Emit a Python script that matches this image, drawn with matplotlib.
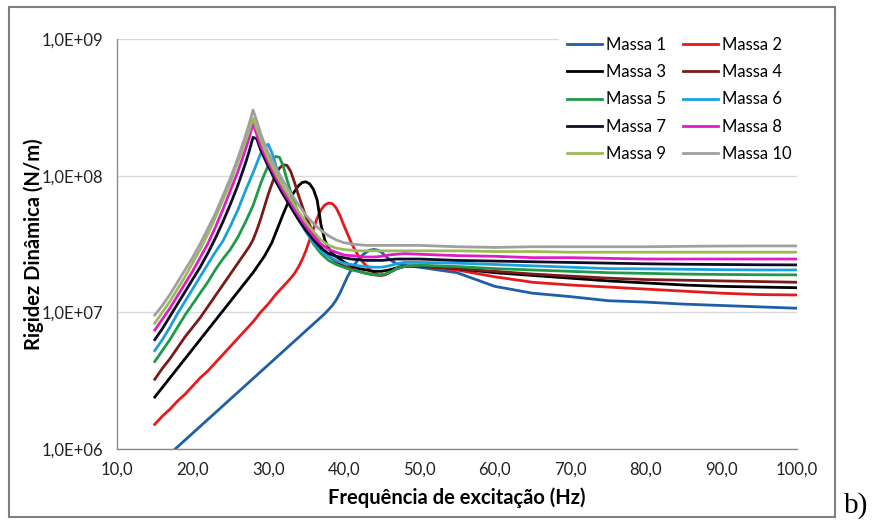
import numpy as np
import matplotlib.pyplot as plt
from matplotlib.patches import Rectangle
from matplotlib.ticker import FixedLocator, FuncFormatter, NullLocator

# frequencias (Hz)
freq = [15, 16, 17, 18, 19, 20, 21, 22, 23, 24, 25, 26,
        27, 27.5, 28, 28.5, 29, 29.5, 30, 30.5, 31, 31.5, 32, 32.5, 33, 33.5,
        34, 34.5, 35, 35.5, 36, 36.5, 37, 37.5, 38, 38.5, 39, 39.5, 40, 40.5,
        41, 41.5, 42, 42.5, 43, 43.5, 44, 44.5, 45, 45.5, 46,
        47, 48, 50, 55, 60, 65, 70, 75, 80, 85, 90, 95, 100]

# log10 da rigidez dinamica (N/m), uma lista por massa
log_m1 = [5.865, 5.915, 5.965, 6.015, 6.065, 6.115, 6.165, 6.215, 6.265, 6.315, 6.365, 6.415,
          6.465, 6.49, 6.515, 6.54, 6.565, 6.59, 6.615, 6.64, 6.665, 6.69, 6.715, 6.74, 6.765, 6.79,
          6.815, 6.84, 6.865, 6.89, 6.915, 6.94, 6.965, 6.99, 7.02, 7.05, 7.09, 7.14, 7.20, 7.26,
          7.31, 7.355, 7.39, 7.42, 7.44, 7.455, 7.46, 7.455, 7.44, 7.415, 7.39,
          7.355, 7.345, 7.33, 7.29, 7.19, 7.14, 7.115, 7.085, 7.075, 7.06, 7.05, 7.04, 7.03]
log_m2 = [6.18, 6.24, 6.29, 6.35, 6.40, 6.46, 6.52, 6.57, 6.63, 6.69, 6.75, 6.81,
          6.87, 6.90, 6.93, 6.965, 7.00, 7.03, 7.06, 7.095, 7.13, 7.16, 7.19, 7.22, 7.25, 7.285,
          7.33, 7.385, 7.45, 7.53, 7.61, 7.69, 7.75, 7.785, 7.80, 7.795, 7.765, 7.71, 7.64, 7.575,
          7.51, 7.455, 7.41, 7.37, 7.34, 7.31, 7.29, 7.275, 7.27, 7.275, 7.29,
          7.32, 7.335, 7.34, 7.31, 7.26, 7.22, 7.20, 7.185, 7.17, 7.155, 7.14, 7.13, 7.127]
log_m3 = [6.38, 6.45, 6.52, 6.59, 6.66, 6.73, 6.80, 6.87, 6.94, 7.01, 7.08, 7.15,
          7.22, 7.255, 7.29, 7.33, 7.37, 7.41, 7.46, 7.51, 7.58, 7.65, 7.72, 7.785, 7.84, 7.885,
          7.925, 7.95, 7.955, 7.94, 7.90, 7.82, 7.64, 7.53, 7.47, 7.43, 7.41, 7.39, 7.37, 7.355,
          7.34, 7.33, 7.32, 7.315, 7.31, 7.305, 7.30, 7.30, 7.30, 7.305, 7.31,
          7.325, 7.335, 7.34, 7.32, 7.29, 7.27, 7.25, 7.23, 7.215, 7.20, 7.19, 7.185, 7.18]
log_m4 = [6.51, 6.59, 6.66, 6.74, 6.82, 6.89, 6.96, 7.04, 7.12, 7.20, 7.28, 7.36,
          7.44, 7.48, 7.53, 7.60, 7.68, 7.77, 7.86, 7.94, 8.01, 8.055, 8.08, 8.075, 8.03, 7.95,
          7.86, 7.78, 7.70, 7.64, 7.58, 7.53, 7.48, 7.44, 7.41, 7.39, 7.37, 7.355, 7.34, 7.33,
          7.32, 7.31, 7.30, 7.292, 7.285, 7.28, 7.275, 7.272, 7.272, 7.278, 7.29,
          7.32, 7.335, 7.34, 7.32, 7.30, 7.28, 7.265, 7.25, 7.24, 7.235, 7.23, 7.225, 7.22]
log_m5 = [6.64, 6.72, 6.80, 6.89, 6.98, 7.06, 7.14, 7.22, 7.31, 7.39, 7.46, 7.55,
          7.66, 7.72, 7.78, 7.86, 7.94, 8.01, 8.07, 8.115, 8.14, 8.135, 8.07, 7.97, 7.88, 7.80,
          7.72, 7.66, 7.60, 7.55, 7.50, 7.465, 7.43, 7.405, 7.38, 7.365, 7.35, 7.34, 7.33, 7.32,
          7.31, 7.305, 7.30, 7.292, 7.285, 7.28, 7.275, 7.273, 7.275, 7.28, 7.29,
          7.32, 7.335, 7.345, 7.335, 7.32, 7.31, 7.30, 7.29, 7.285, 7.28, 7.277, 7.275, 7.274]
log_m6 = [6.72, 6.80, 6.89, 6.99, 7.08, 7.17, 7.26, 7.35, 7.44, 7.52, 7.63, 7.75,
          7.89, 7.955, 8.02, 8.09, 8.16, 8.21, 8.23, 8.17, 8.08, 7.98, 7.90, 7.84, 7.78, 7.73,
          7.68, 7.635, 7.59, 7.55, 7.51, 7.48, 7.45, 7.43, 7.41, 7.395, 7.38, 7.37, 7.36, 7.355,
          7.35, 7.345, 7.34, 7.337, 7.335, 7.332, 7.33, 7.33, 7.33, 7.335, 7.34,
          7.355, 7.365, 7.365, 7.36, 7.35, 7.34, 7.33, 7.32, 7.318, 7.315, 7.312, 7.31, 7.31]
log_m7 = [6.80, 6.88, 6.97, 7.06, 7.15, 7.24, 7.33, 7.43, 7.54, 7.66, 7.79, 7.93,
          8.09, 8.18, 8.28, 8.27, 8.19, 8.13, 8.07, 8.015, 7.96, 7.91, 7.86, 7.815, 7.77, 7.725,
          7.68, 7.64, 7.60, 7.565, 7.53, 7.50, 7.47, 7.45, 7.43, 7.42, 7.41, 7.405, 7.40, 7.395,
          7.39, 7.387, 7.385, 7.382, 7.38, 7.38, 7.38, 7.38, 7.38, 7.382, 7.385,
          7.39, 7.39, 7.39, 7.38, 7.375, 7.37, 7.365, 7.36, 7.355, 7.352, 7.35, 7.348, 7.347]
log_m8 = [6.87, 6.95, 7.03, 7.12, 7.21, 7.30, 7.40, 7.50, 7.62, 7.75, 7.89, 8.03,
          8.19, 8.28, 8.38, 8.30, 8.22, 8.16, 8.10, 8.045, 7.99, 7.94, 7.89, 7.845, 7.80, 7.755,
          7.71, 7.67, 7.63, 7.595, 7.56, 7.53, 7.50, 7.48, 7.46, 7.45, 7.44, 7.43, 7.42, 7.417,
          7.415, 7.412, 7.41, 7.407, 7.405, 7.405, 7.405, 7.407, 7.41, 7.415, 7.42,
          7.425, 7.43, 7.425, 7.415, 7.41, 7.40, 7.40, 7.395, 7.39, 7.39, 7.39, 7.39, 7.39]
log_m9 = [6.92, 7.00, 7.08, 7.17, 7.26, 7.36, 7.46, 7.57, 7.69, 7.82, 7.95, 8.10,
          8.25, 8.33, 8.42, 8.34, 8.27, 8.195, 8.13, 8.075, 8.02, 7.97, 7.92, 7.875, 7.83, 7.785,
          7.74, 7.70, 7.66, 7.625, 7.59, 7.56, 7.53, 7.51, 7.49, 7.48, 7.47, 7.465, 7.46, 7.457,
          7.455, 7.452, 7.45, 7.45, 7.45, 7.45, 7.45, 7.45, 7.45, 7.45, 7.45,
          7.45, 7.45, 7.45, 7.45, 7.445, 7.445, 7.44, 7.44, 7.44, 7.44, 7.44, 7.44, 7.44]
log_m10 = [6.98, 7.05, 7.13, 7.22, 7.31, 7.40, 7.50, 7.61, 7.72, 7.85, 7.98, 8.13,
           8.29, 8.38, 8.48, 8.40, 8.31, 8.235, 8.17, 8.115, 8.06, 8.01, 7.96, 7.915, 7.87, 7.83,
           7.79, 7.75, 7.71, 7.68, 7.65, 7.625, 7.60, 7.58, 7.56, 7.545, 7.53, 7.52, 7.51, 7.505,
           7.50, 7.497, 7.495, 7.492, 7.49, 7.49, 7.49, 7.49, 7.49, 7.49, 7.49,
           7.49, 7.49, 7.49, 7.48, 7.475, 7.48, 7.48, 7.48, 7.48, 7.483, 7.485, 7.486, 7.486]

labels = ['Massa 1', 'Massa 2', 'Massa 3', 'Massa 4', 'Massa 5',
          'Massa 6', 'Massa 7', 'Massa 8', 'Massa 9', 'Massa 10']
colors = ['#1f5fa6', '#e41a1c', '#000000', '#7b1a1a', '#1f9a48',
          '#1aa0dc', '#0d0d26', '#e01bc8', '#9bbb59', '#a0a0a0']
series = [log_m1, log_m2, log_m3, log_m4, log_m5,
          log_m6, log_m7, log_m8, log_m9, log_m10]

plt.rcParams['font.family'] = ['Lato', 'DejaVu Sans']

fig = plt.figure(figsize=(8.76, 5.25), dpi=100)
ax = fig.add_axes([117 / 876, 1 - 449 / 525, 680 / 876, 410 / 525])

handles = []
for lg, lab, c in zip(series, labels, colors):
    h, = ax.plot(freq, 10 ** np.array(lg), color=c, lw=2, label=lab,
                 solid_joinstyle='round')
    handles.append(h)

ax.set_yscale('log')
ax.set_ylim(1e6, 1e9)
ax.set_xlim(10, 100)
ax.yaxis.set_major_locator(FixedLocator([1e6, 1e7, 1e8, 1e9]))
ax.yaxis.set_minor_locator(NullLocator())
ax.yaxis.set_major_formatter(FuncFormatter(lambda v, p: '1,0E+%02d' % round(np.log10(v))))
ax.set_xticks(np.arange(10, 101, 10))
ax.xaxis.set_major_formatter(FuncFormatter(lambda v, p: ('%.1f' % v).replace('.', ',')))
ax.tick_params(length=0, labelsize=12, colors='#222222', pad=10)
ax.tick_params(axis='x', pad=9)

ax.grid(axis='y', color='#d9d9d9', lw=1)
ax.set_axisbelow(True)
for s in ['top', 'right']:
    ax.spines[s].set_visible(False)
for s in ['left', 'bottom']:
    ax.spines[s].set_color('#8c8c8c')
    ax.spines[s].set_linewidth(1)

ax.set_xlabel('Frequência de excitação (Hz)', fontsize=14.5, fontweight='bold', labelpad=7)
ax.set_ylabel('Rigidez Dinâmica (N/m)', fontsize=14.5, fontweight='bold')
ax.yaxis.set_label_coords(-0.108, 0.5)

# legenda preenchida por linhas (Massa 1 | Massa 2 ...)
order = [0, 2, 4, 6, 8, 1, 3, 5, 7, 9]
leg = ax.legend([handles[i] for i in order], [labels[i] for i in order],
                loc='upper left', bbox_to_anchor=(551 / 876, 1 - 21 / 525),
                bbox_transform=fig.transFigure, ncol=2, fontsize=12,
                frameon=True, fancybox=False, framealpha=1, edgecolor='none',
                handlelength=2.1, handletextpad=0.25, columnspacing=1.0,
                labelspacing=0.68, borderpad=0.45)
leg.get_frame().set_facecolor('white')

fig.patches.append(Rectangle((9 / 876, 1 - 517 / 525), 826 / 876, 510 / 525,
                             transform=fig.transFigure, fill=False,
                             edgecolor='#7f7f7f', lw=1.5))
fig.text(856 / 876, 1 - 506 / 525, 'b)', fontsize=21, family='Liberation Serif',
         ha='center', va='center')

fig.savefig('out.png', dpi=100)
